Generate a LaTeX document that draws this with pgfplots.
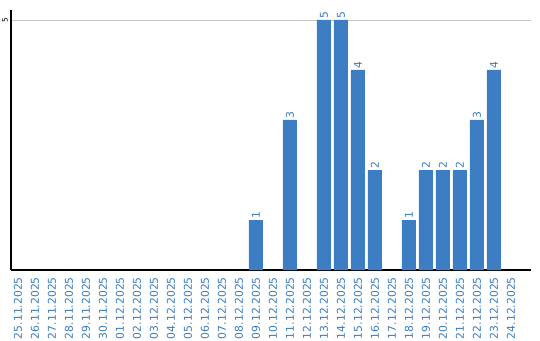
\documentclass[border=0pt]{standalone}
\usepackage{fontspec}
\setmainfont{DejaVu Sans}
\usepackage{pgfplots}
\pgfplotsset{compat=1.18}
\definecolor{barblue}{HTML}{3C7DC3}
\definecolor{lblblue}{HTML}{3A7CC2}
\begin{document}
\begin{tikzpicture}[x=1pt,y=1pt]
\begin{axis}[
  name=ax, anchor=south west, at={(0,0)},
  scale only axis, width=520pt, height=260pt,
  xmin=-0.41, xmax=30.18, ymin=0, ymax=5.2,
  axis x line*=bottom, axis y line*=left,
  axis line style={black, line width=1.3pt},
  ybar, bar width=14pt,
  xtick={0,...,29},
  xticklabels={25.11.2025,26.11.2025,27.11.2025,28.11.2025,29.11.2025,30.11.2025,01.12.2025,02.12.2025,03.12.2025,04.12.2025,05.12.2025,06.12.2025,07.12.2025,08.12.2025,09.12.2025,10.12.2025,11.12.2025,12.12.2025,13.12.2025,14.12.2025,15.12.2025,16.12.2025,17.12.2025,18.12.2025,19.12.2025,20.12.2025,21.12.2025,22.12.2025,23.12.2025,24.12.2025},
  xticklabel style={rotate=90, anchor=east, font=\fontsize{10.8}{11}\selectfont, text=lblblue, inner sep=0pt},
  xticklabel shift=7pt,
  ytick={5},
  yticklabel style={rotate=90, anchor=south, font=\fontsize{7.5}{8}\selectfont, text=black, inner sep=0pt},
  yticklabel shift=3pt,
  /pgf/number format/assume math mode=true,
  major tick length=0pt,
  ymajorgrids, grid style={color=black!22, line width=0.8pt},
  nodes near coords,
  nodes near coords style={rotate=90, anchor=west, font=\fontsize{10.8}{11}\selectfont, text=lblblue, inner sep=0pt, xshift=1.5pt},
  clip=false,
]
\addplot[fill=barblue, draw=none] coordinates {
(14,1) (16,3) (18,5) (19,5) (20,4) (21,2) (23,1) (24,2) (25,2) (26,2) (27,3) (28,4)
};
\end{axis}
\pgfresetboundingbox
\path (-11pt,-70pt) rectangle (529pt,270pt);
\end{tikzpicture}
\end{document}
